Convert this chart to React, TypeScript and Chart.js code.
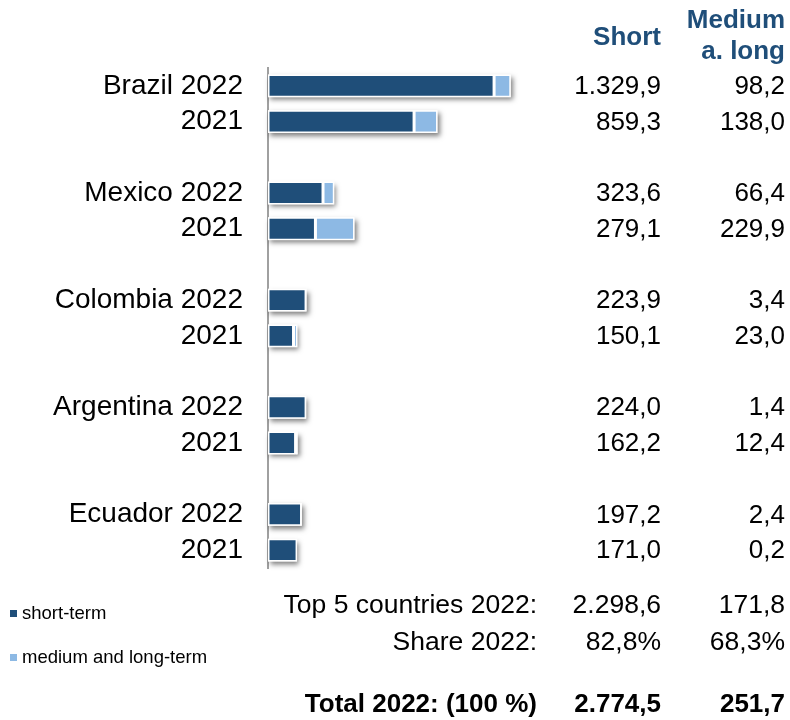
import React, { useEffect, useRef } from "react";
import { Chart, registerables } from "chart.js";

Chart.register(...registerables);

const countries = ["Brazil", "Mexico", "Colombia", "Argentina", "Ecuador"];
const years = ["2022", "2021"];
const short2022 = [1329.9, 323.6, 223.9, 224.0, 197.2];
const short2021 = [859.3, 279.1, 150.1, 162.2, 171.0];
const medLong2022 = [98.2, 66.4, 3.4, 1.4, 2.4];
const medLong2021 = [138.0, 229.9, 23.0, 12.4, 0.2];

const headerShort = ["Short"];
const headerMedLong = ["Medium", "a. long"];
const summaryLabels = ["Top 5 countries 2022:", "Share 2022:"];
const summaryShort = ["2.298,6", "82,8%"];
const summaryMedLong = ["171,8", "68,3%"];
const totalRow = ["Total 2022: (100 %)", "2.774,5", "251,7"];
const legendLabels = ["short-term", "medium and long-term"];

const DARK = "#1F4E79";
const LIGHT = "#8DB9E4";
const FONT = "'Liberation Sans', Arial, sans-serif";

function fmt(v: number): string {
  const [i, d] = v.toFixed(1).split(".");
  return i.replace(/\B(?=(\d{3})+(?!\d))/g, ".") + "," + d;
}

// build category rows: country 2022, 2021, blank spacer
const labels: string[] = [];
const shortData: (number | null)[] = [];
const medData: (number | null)[] = [];
countries.forEach((c, i) => {
  labels.push(c + " " + years[0]);
  shortData.push(short2022[i]);
  medData.push(medLong2022[i]);
  labels.push(years[1]);
  shortData.push(short2021[i]);
  medData.push(medLong2021[i]);
  if (i < countries.length - 1) {
    labels.push("");
    shortData.push(null);
    medData.push(null);
  }
});

const shadowPlugin = {
  id: "barShadow",
  beforeDatasetsDraw(chart: any) {
    const ctx = chart.ctx;
    const m0 = chart.getDatasetMeta(0);
    const m1 = chart.getDatasetMeta(1);
    ctx.save();
    ctx.shadowColor = "rgba(0,0,0,0.5)";
    ctx.shadowBlur = 5;
    ctx.shadowOffsetX = 2;
    ctx.shadowOffsetY = 3;
    ctx.fillStyle = "#ffffff";
    m0.data.forEach((el: any, i: number) => {
      if (shortData[i] == null) return;
      const e1 = m1.data[i];
      const x0 = el.base;
      const x1 = Math.max(el.x, e1 ? e1.x : el.x);
      const h = el.height;
      ctx.fillRect(x0, el.y - h / 2, x1 - x0, h);
    });
    ctx.restore();
  },
};

const textPlugin = {
  id: "tableText",
  afterDraw(chart: any) {
    const ctx = chart.ctx;
    const y = chart.scales.y;
    const colShort = 661;
    const colMed = 785;
    ctx.save();
    ctx.textBaseline = "middle";
    ctx.textAlign = "right";
    // headers
    ctx.fillStyle = DARK;
    ctx.font = `bold 26px ${FONT}`;
    ctx.fillText(headerShort[0], colShort, 38);
    ctx.fillText(headerMedLong[0], colMed, 21);
    ctx.fillText(headerMedLong[1], colMed, 52);
    // row values
    ctx.fillStyle = "#000";
    ctx.font = `26px ${FONT}`;
    labels.forEach((_, i) => {
      if (shortData[i] == null) return;
      const py = y.getPixelForValue(i) + 1;
      ctx.fillText(fmt(shortData[i] as number), colShort, py);
      ctx.fillText(fmt(medData[i] as number), colMed, py);
    });
    // summary
    const sy = [606, 643];
    ctx.font = `26.5px ${FONT}`;
    summaryLabels.forEach((l, i) => {
      ctx.fillText(l, 537, sy[i]);
      ctx.fillText(summaryShort[i], colShort, sy[i]);
      ctx.fillText(summaryMedLong[i], colMed, sy[i]);
    });
    ctx.font = `bold 26px ${FONT}`;
    ctx.fillText(totalRow[0], 537, 705);
    ctx.fillText(totalRow[1], colShort, 705);
    ctx.fillText(totalRow[2], colMed, 705);
    // legend
    ctx.textAlign = "left";
    ctx.font = `18.5px ${FONT}`;
    const ly = [614, 658];
    const lc = [DARK, LIGHT];
    legendLabels.forEach((l, i) => {
      ctx.fillStyle = lc[i];
      ctx.fillRect(10, ly[i] - 4, 7, 7);
      ctx.fillStyle = "#000";
      ctx.fillText(l, 22, ly[i]);
    });
    ctx.restore();
  },
};

export default function App() {
  const ref = useRef<HTMLCanvasElement | null>(null);
  useEffect(() => {
    document.body.style.margin = "0";
    if (!ref.current) return;
    const chart = new Chart(ref.current, {
      type: "bar",
      data: {
        labels,
        datasets: [
          {
            label: legendLabels[0],
            data: shortData,
            backgroundColor: DARK,
            borderColor: "#ffffff",
            borderWidth: 1.5,
            borderSkipped: false,
            categoryPercentage: 1,
            barPercentage: 0.64,
          },
          {
            label: legendLabels[1],
            data: medData,
            backgroundColor: LIGHT,
            borderColor: "#ffffff",
            borderWidth: 1.5,
            borderSkipped: false,
            categoryPercentage: 1,
            barPercentage: 0.64,
          },
        ],
      },
      options: {
        indexAxis: "y",
        animation: false,
        responsive: true,
        maintainAspectRatio: false,
        layout: { padding: { top: 68, bottom: 152, right: 250, left: 0 } },
        plugins: { legend: { display: false }, tooltip: { enabled: false } },
        scales: {
          x: { stacked: true, display: false, min: 0, max: 1600 },
          y: {
            stacked: true,
            grid: { display: false, drawTicks: false },
            border: { display: true, color: "#a0a0a0", width: 2 },
            ticks: {
              color: "#000",
              padding: 25,
              font: { family: FONT, size: 28 },
              autoSkip: false,
            },
            afterFit(scale: any) {
              scale.width = 268;
            },
          },
        },
      },
      plugins: [shadowPlugin, textPlugin],
    } as any);
    return () => chart.destroy();
  }, []);
  return (
    <div style={{ width: 790, height: 720, position: "relative" }}>
      <canvas ref={ref} />
    </div>
  );
}
